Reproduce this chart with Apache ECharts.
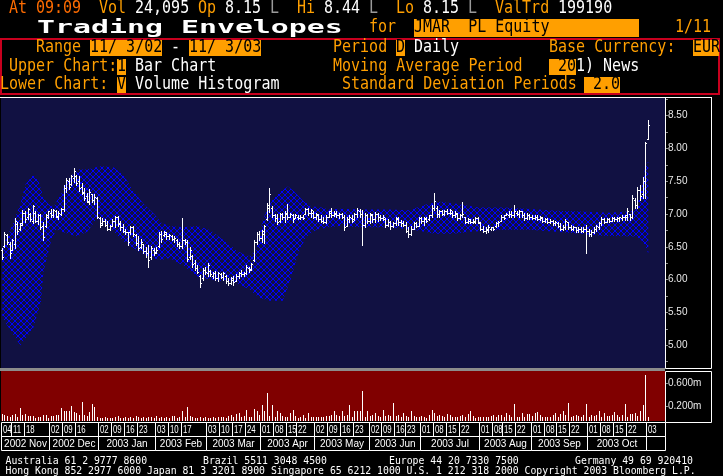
<!DOCTYPE html>
<html><head><meta charset="utf-8">
<script src="https://cdn.jsdelivr.net/npm/echarts@6/dist/echarts.min.js"></script>
<style>html,body{margin:0;padding:0;background:#000;}#c{width:723px;height:476px;}</style>
</head><body><div id="c"></div>
<script>
// ---------- DATA ----------
const holidays = ['2002-11-11','2002-12-24','2002-12-25','2002-12-26','2003-01-01','2003-04-21','2003-05-01','2003-06-19','2003-08-15','2003-11-11'];
const firstDay = '2002-11-04';
const axisDays = 258; // trading-day slots on the time axis (last ones are empty)

const weekTicks = ['2002-11-04','2002-11-11','2002-11-18','2002-12-02','2002-12-09','2002-12-16',
 '2003-01-02','2003-01-09','2003-01-16','2003-01-23','2003-02-03','2003-02-10','2003-02-17',
 '2003-03-03','2003-03-10','2003-03-17','2003-03-24','2003-04-01','2003-04-08','2003-04-15','2003-04-22',
 '2003-05-02','2003-05-09','2003-05-16','2003-05-23','2003-06-02','2003-06-09','2003-06-16','2003-06-23',
 '2003-07-01','2003-07-08','2003-07-15','2003-07-22','2003-08-01','2003-08-08','2003-08-15','2003-08-22',
 '2003-09-01','2003-09-08','2003-09-15','2003-09-22','2003-10-01','2003-10-08','2003-10-15','2003-10-22','2003-11-03'];
const monthTicks = ['2002-11-04','2002-12-02','2003-01-02','2003-02-03','2003-03-03','2003-04-01','2003-05-02',
 '2003-06-02','2003-07-01','2003-08-01','2003-09-01','2003-10-01','2003-11-03'];
const monthLabels = ['2002 Nov','2002 Dec','2003 Jan','2003 Feb','2003 Mar','2003 Apr','2003 May',
 '2003 Jun','2003 Jul','2003 Aug','2003 Sep','2003 Oct','2003 Nov'];

// [open, high, low, close] per trading day
const priceBars = [
[6.45,6.48,6.32,6.35],[6.52,6.73,6.50,6.70],[6.68,6.70,6.55,6.58],[6.55,6.58,6.33,6.40],[6.46,6.62,6.45,6.60],
[6.55,6.94,6.49,6.90],[6.85,6.88,6.70,6.74],[6.78,6.86,6.76,6.84],[6.86,7.06,6.84,7.02],[7.02,7.05,6.88,6.92],
[6.95,7.10,6.93,7.08],[7.00,7.02,6.90,6.93],[6.90,7.14,6.87,7.12],[7.02,7.04,6.88,6.90],[6.90,7.00,6.85,6.98],
[6.98,7.00,6.78,6.80],[6.82,6.88,6.61,6.65],[6.82,7.00,6.80,6.98],[6.96,7.05,6.94,7.04],[7.02,7.08,6.96,6.98],
[6.98,7.08,6.96,7.06],[7.04,7.06,6.95,6.97],[6.96,7.04,6.93,7.02],[7.00,7.10,6.98,7.08],[7.08,7.44,7.04,7.40],
[7.40,7.55,7.34,7.52],[7.50,7.55,7.38,7.42],[7.46,7.60,7.45,7.58],[7.55,7.70,7.49,7.66],[7.58,7.60,7.44,7.48],
[7.50,7.58,7.35,7.40],[7.42,7.48,7.30,7.32],[7.34,7.40,7.22,7.25],[7.28,7.32,7.18,7.20],[7.18,7.38,7.15,7.34],
[7.30,7.30,7.18,7.22],[7.22,7.30,7.15,7.26],[7.24,7.26,6.94,6.96],[6.94,6.96,6.80,6.84],[6.86,6.94,6.84,6.90],
[6.90,6.92,6.82,6.84],[6.84,6.90,6.76,6.78],[6.78,6.84,6.76,6.82],[6.82,6.92,6.82,6.90],[6.90,6.97,6.80,6.95],
[6.95,6.97,6.82,6.85],[6.86,6.90,6.76,6.80],[6.80,6.85,6.72,6.75],[6.75,6.78,6.70,6.72],[6.72,6.73,6.53,6.58],
[6.72,6.82,6.70,6.80],[6.80,6.82,6.66,6.70],[6.68,6.70,6.53,6.56],[6.56,6.66,6.45,6.48],[6.50,6.62,6.48,6.58],
[6.55,6.55,6.40,6.44],[6.44,6.50,6.35,6.40],[6.40,6.53,6.19,6.30],[6.34,6.52,6.32,6.48],[6.46,6.48,6.38,6.40],
[6.42,6.50,6.40,6.46],[6.52,6.73,6.50,6.70],[6.70,6.74,6.58,6.62],[6.68,6.74,6.66,6.72],[6.70,6.73,6.62,6.66],
[6.66,6.70,6.62,6.68],[6.66,6.68,6.60,6.62],[6.62,6.66,6.58,6.64],[6.60,6.62,6.52,6.55],[6.55,6.58,6.49,6.52],
[6.52,6.94,6.49,6.60],[6.60,6.62,6.55,6.57],[6.58,6.61,6.28,6.32],[6.35,6.50,6.32,6.45],[6.36,6.38,6.20,6.24],
[6.26,6.30,6.15,6.18],[6.18,6.22,6.10,6.12],[6.05,6.07,5.89,5.95],[6.02,6.18,6.00,6.15],[6.15,6.20,6.08,6.12],
[6.10,6.25,6.05,6.22],[6.14,6.15,6.05,6.08],[6.06,6.12,6.02,6.10],[6.10,6.14,6.00,6.03],[6.02,6.12,5.98,6.10],
[6.08,6.10,6.02,6.04],[6.04,6.12,6.00,6.10],[6.05,6.07,5.95,5.98],[5.98,6.02,5.92,5.95],[5.95,6.04,5.93,6.02],
[6.00,6.06,5.92,5.96],[5.98,6.08,5.98,6.06],[6.05,6.12,6.02,6.10],[6.10,6.15,6.05,6.08],[6.08,6.12,6.05,6.10],
[6.10,6.22,6.08,6.20],[6.18,6.20,6.12,6.15],[6.16,6.25,6.15,6.24],[6.30,6.60,6.28,6.58],[6.58,6.72,6.55,6.70],
[6.70,6.74,6.60,6.64],[6.64,6.76,6.58,6.74],[6.70,6.84,6.56,6.82],[6.92,7.17,6.91,7.14],[7.10,7.40,7.03,7.30],
[7.10,7.12,6.95,6.98],[6.98,7.00,6.90,6.94],[6.94,7.00,6.85,6.88],[6.90,7.02,6.88,7.00],[7.00,7.02,6.92,6.96],
[6.96,7.05,6.88,7.02],[7.00,7.15,6.92,6.96],[6.96,7.02,6.95,7.00],[6.98,7.00,6.88,6.92],[6.94,7.00,6.94,6.98],
[6.96,6.98,6.92,6.94],[6.94,6.98,6.92,6.96],[6.95,6.98,6.93,6.94],[7.00,7.10,7.00,7.08],[7.08,7.10,6.98,7.02],
[7.02,7.08,6.96,7.06],[7.02,7.04,6.94,6.96],[6.96,7.02,6.92,7.00],[6.98,7.00,6.90,6.92],[6.92,6.98,6.88,6.90],
[6.90,6.95,6.86,6.88],[6.88,6.98,6.87,6.96],[6.96,7.05,6.95,7.04],[7.02,7.10,6.96,6.98],[6.98,7.04,6.97,7.02],
[7.00,7.04,6.95,6.98],[6.98,7.02,6.94,7.00],[7.00,7.02,6.94,6.96],[6.96,6.99,6.76,6.80],[6.82,6.96,6.82,6.92],
[6.92,6.98,6.88,6.96],[6.94,6.98,6.88,6.90],[6.92,7.02,6.91,7.00],[7.00,7.10,6.96,7.06],[7.05,7.08,6.96,7.00],
[7.00,7.07,6.53,6.84],[6.84,7.02,6.81,6.98],[6.98,7.00,6.86,6.90],[6.90,7.02,6.86,7.00],[6.98,7.00,6.88,6.92],
[6.92,7.03,6.88,7.00],[7.00,7.02,6.90,6.96],[6.96,6.99,6.91,6.94],[6.94,6.99,6.91,6.96],[6.92,6.94,6.80,6.84],
[6.84,6.92,6.82,6.88],[6.88,6.90,6.78,6.82],[6.82,6.88,6.80,6.86],[6.86,6.96,6.84,6.94],[6.92,6.96,6.84,6.88],
[6.88,6.91,6.82,6.86],[6.86,6.90,6.82,6.84],[6.84,6.88,6.72,6.75],[6.75,6.80,6.65,6.70],[6.70,6.82,6.68,6.78],
[6.78,6.88,6.78,6.86],[6.86,6.88,6.80,6.82],[6.82,6.96,6.82,6.94],[6.94,6.96,6.86,6.90],[6.90,6.96,6.84,6.94],
[6.92,6.96,6.88,6.90],[6.92,6.99,6.91,6.98],[6.98,7.14,6.96,7.10],[7.10,7.32,7.06,7.20],[7.10,7.12,6.96,7.00],
[7.00,7.06,6.96,7.04],[7.04,7.06,6.98,7.00],[7.00,7.06,6.98,7.04],[7.04,7.08,7.00,7.02],[7.02,7.08,7.00,7.06],
[7.02,7.04,6.96,6.98],[6.98,7.04,6.96,7.02],[7.00,7.02,6.91,6.94],[6.94,7.00,6.92,6.98],[6.98,7.19,6.95,7.00],
[6.96,6.96,6.86,6.88],[6.88,6.94,6.86,6.92],[6.90,6.93,6.86,6.88],[6.88,6.92,6.86,6.90],[6.88,6.96,6.86,6.94],
[6.94,6.96,6.86,6.88],[6.86,6.88,6.76,6.78],[6.78,6.82,6.72,6.75],[6.74,6.80,6.71,6.78],[6.76,6.83,6.72,6.80],
[6.78,6.81,6.76,6.80],[6.80,6.81,6.76,6.78],[6.82,6.88,6.81,6.86],[6.86,6.90,6.82,6.88],[6.90,6.98,6.90,6.96],
[6.96,6.98,6.92,6.94],[6.98,7.02,6.98,7.00],[6.98,7.05,6.96,7.00],[7.00,7.04,6.96,6.98],[6.98,7.14,6.96,7.04],
[7.02,7.04,6.98,7.00],[7.00,7.07,6.96,7.04],[7.04,7.04,6.96,6.98],[6.98,7.02,6.91,6.94],[6.94,7.01,6.93,6.98],
[6.98,7.00,6.93,6.96],[6.96,6.98,6.93,6.94],[6.94,6.98,6.93,6.96],[6.96,6.98,6.91,6.93],[6.93,6.97,6.91,6.95],
[6.94,6.96,6.88,6.90],[6.90,6.94,6.88,6.92],[6.92,6.94,6.86,6.88],[6.88,6.92,6.86,6.90],[6.90,6.91,6.84,6.86],
[6.86,6.90,6.84,6.88],[6.86,6.88,6.80,6.82],[6.82,6.86,6.76,6.78],[6.78,6.84,6.76,6.80],[6.80,6.93,6.78,6.90],
[6.88,6.88,6.78,6.80],[6.80,6.84,6.76,6.78],[6.78,6.82,6.76,6.80],[6.80,6.81,6.73,6.76],[6.76,6.80,6.73,6.78],
[6.78,6.81,6.73,6.75],[6.75,6.80,6.73,6.78],[6.78,6.84,6.40,6.74],[6.74,6.78,6.66,6.70],[6.70,6.76,6.66,6.72],
[6.72,6.80,6.71,6.78],[6.78,6.84,6.74,6.82],[6.80,6.88,6.78,6.86],[6.86,6.96,6.84,6.92],[6.92,6.94,6.86,6.88],
[6.88,6.94,6.88,6.92],[6.92,6.94,6.88,6.90],[6.90,6.96,6.90,6.94],[6.94,6.96,6.90,6.92],[6.92,6.96,6.90,6.94],
[6.94,6.96,6.90,6.95],[6.94,6.98,6.91,6.96],[6.96,6.98,6.91,6.98],[6.96,7.10,6.91,7.04],[7.00,7.00,6.91,6.96],
[6.96,7.29,6.94,7.24],[7.22,7.25,7.10,7.14],[7.14,7.41,7.10,7.36],[7.36,7.45,7.22,7.28],[7.30,7.56,7.25,7.50],
[7.50,8.10,7.25,8.08],[8.15,8.44,8.15,8.36]
];

// daily volume, millions of shares
const volumes = [
0.068,0.045,0.040,0.011,0.056,0.068,0.011,0.171,0.056,0.068,0.028,0.028,0.028,0.005,0.022,0.011,0.045,0.056,0.005,0.028,
0.028,0.045,0.056,0.171,0.125,0.125,0.114,0.200,0.102,0.085,0.056,0.268,0.056,0.028,0.097,0.240,0.182,0.011,
0.005,0.005,0.011,0.005,0.003,0.005,0.011,0.028,0.005,0.005,0.011,0.005,0.011,0.005,0.028,0.011,0.005,0.011,0.005,0.011,
0.011,0.005,0.028,0.005,0.011,0.005,0.011,0.005,0.028,
0.028,0.005,0.011,0.125,0.011,0.182,0.028,0.011,0.005,0.005,0.011,0.005,0.011,0.005,0.005,0.011,0.005,0.011,0.011,0.011,
0.005,0.028,0.056,0.011,0.068,0.085,
0.011,0.028,0.142,0.011,0.011,0.160,0.125,0.056,0.228,0.125,0.428,0.028,0.228,0.011,0.125,0.085,0.028,0.011,0.011,0.085,
0.142,0.028,0.005,0.011,0.056,0.005,0.085,0.011,0.011,0.011,0.011,0.011,0.011,0.028,0.028,0.056,0.125,0.056,0.028,0.114,
0.028,0.056,0.228,0.011,0.125,0.125,0.114,0.468,0.011,0.114,0.028,0.056,0.085,0.028,0.011,0.142,0.028,0.056,0.028,0.257,
0.028,0.056,0.011,0.085,0.028,0.011,0.114,0.028,0.011,0.011,0.028,0.011,0.005,0.056,0.142,0.085,0.028,0.056,0.028,0.011,
0.068,0.056,0.011,0.011,0.011,0.028,0.056,0.011,0.068,0.114,0.028,0.005,0.011,
0.011,0.011,0.011,0.011,0.028,0.045,0.011,0.056,0.056,0.011,0.085,0.056,0.011,0.240,0.011,0.011,0.085,0.011,0.068,0.068,
0.028,0.085,0.102,0.056,0.011,0.011,0.011,0.011,0.056,0.085,0.011,0.068,0.114,0.056,0.257,0.011,0.028,0.056,0.028,0.011,
0.056,0.240,0.011,0.056,0.028,0.056,0.125,0.011,0.085,0.028,0.028,0.056,0.102,0.056,0.011,0.056,0.240,0.011,0.068,0.068,
0.085,0.028,0.114,0.217,0.732,0.024
];

// trading envelope (upper / lower), read at selected trading-day positions
const bandUpperIdx = [0,3,7,9,12,14,16,18,20,23,25,29,33,38,43,47,51,55,59,62,65,70,76,81,86,91,94,96,99,101,104,108,111,113,117,120,124,127,131,140,150,158,165,170,178,185,195,204,215,225,236,246,248,250,251];
const bandUpperVal = [6.48,6.75,7.15,7.45,7.60,7.52,7.25,7.15,7.12,7.32,7.50,7.68,7.68,7.73,7.72,7.60,7.35,7.15,7.00,6.86,6.82,6.80,6.82,6.75,6.60,6.45,6.38,6.36,6.48,6.88,7.19,7.34,7.42,7.36,7.20,7.12,7.10,7.07,7.08,7.07,7.07,7.06,7.15,7.19,7.15,7.10,7.10,7.08,7.05,7.04,7.02,7.05,7.30,7.75,7.80];
const bandLowerIdx = [0,7,12,15,16,19,21,25,29,33,37,41,45,48,53,58,62,65,70,76,81,86,91,96,100,104,109,112,115,118,122,127,131,140,150,160,168,175,182,195,205,215,225,233,246,248,250,251];
const bandLowerVal = [5.42,5.00,5.26,5.66,6.12,6.60,6.76,6.71,6.66,6.73,6.94,6.83,6.66,6.56,6.43,6.33,6.30,6.33,6.22,6.05,6.00,5.98,5.95,5.85,5.72,5.68,5.68,6.00,6.40,6.65,6.76,6.80,6.82,6.80,6.80,6.76,6.70,6.70,6.73,6.76,6.76,6.73,6.70,6.67,6.66,6.62,6.50,6.40];

const priceTickValues = [4.75,5.00,5.25,5.50,5.75,6.00,6.25,6.50,6.75,7.00,7.25,7.50,7.75,8.00,8.25,8.50,8.75];
const priceLabelValues = [5.00,5.50,6.00,6.50,7.00,7.50,8.00,8.50];
const volumeLabelValues = [0.2,0.6];

// ---------- BUILD ----------
const iso = d => d.toISOString().slice(0,10);
const dates = [];
{
  const p = firstDay.split('-').map(Number);
  let t = Date.UTC(p[0], p[1]-1, p[2]);
  while (dates.length < axisDays) {
    const d = new Date(t), wd = d.getUTCDay(), s = iso(d);
    if (wd !== 0 && wd !== 6 && holidays.indexOf(s) < 0) dates.push(s);
    t += 86400000;
  }
}
const N = dates.length;
// a tick on a non-trading day is drawn at the preceding trading day
const idxOf = s => { let r = 0; for (let i = 0; i < N; i++) { if (dates[i] <= s) r = i; else break; } return r; };

const dateBoxes = [];
weekTicks.forEach((s, k) => {
  dateBoxes.push({ s: idxOf(s), e: k + 1 < weekTicks.length ? idxOf(weekTicks[k + 1]) : N, row: 0, label: s.slice(8, 10) });
});
monthTicks.forEach((s, k) => {
  dateBoxes.push({ s: idxOf(s), e: k + 1 < monthTicks.length ? idxOf(monthTicks[k + 1]) : N, row: 1, label: monthLabels[k] });
});

// cross-hatch pattern
const hc = document.createElement('canvas');
hc.width = 6; hc.height = 6;
{
  const g = hc.getContext('2d');
  g.fillStyle = '#0000ff';
  for (let i = 0; i < 6; i++) { g.fillRect(i, i, 1, 1); g.fillRect(5 - i, i, 1, 1); }
}
const hatch = { image: hc, repeat: 'repeat' };

const VMIN = -0.052, VMAX = 0.806;

const ORANGE = '#ff9f00', ORRED = '#ff6c00', WHITE = '#ffffff', GREY = '#9a9a9a';
const MONO = '15px "DejaVu Sans Mono"';
const CW = 9;
function T(x, y, s, color, font, extra) {
  return Object.assign({ type: 'text', x: x, y: y, silent: true, z: 100, scaleY: font ? 1 : 1.12,
    style: { text: s, fill: color, font: font || MONO, textAlign: 'left', align: 'left', textVerticalAlign: 'middle', verticalAlign: 'middle' } }, extra || {});
}
function B(x, y, w, h, color) {
  return { type: 'rect', silent: true, z: 99, shape: { x: x, y: y, width: w, height: h }, style: { fill: color } };
}
function L(x1, y1, x2, y2, color, w) {
  return { type: 'line', silent: true, z: 101, shape: { x1: x1, y1: y1, x2: x2, y2: y2 }, style: { stroke: color, lineWidth: w || 1 } };
}
const FOOT = '9.8px "DejaVu Sans Mono"';

const graphics = [
  // row 0
  T(1*CW, 9, 'At', ORRED), T(4*CW, 9, '09:09', ORRED),
  T(11*CW, 9, 'Vol', ORANGE), T(15*CW, 9, '24,095', WHITE),
  T(22*CW, 9, 'Op', ORANGE), T(25*CW, 9, '8.15', WHITE), T(30*CW, 9, 'L', GREY),
  T(33*CW, 9, 'Hi', ORANGE), T(36*CW, 9, '8.44', WHITE), T(41*CW, 9, 'L', GREY),
  T(44*CW, 9, 'Lo', ORANGE), T(47*CW, 9, '8.15', WHITE), T(52*CW, 9, 'L', GREY),
  T(55*CW, 9, 'ValTrd', ORANGE), T(62*CW, 9, '199190', WHITE),
  // title row
  T(37, 28, 'Trading Envelopes', WHITE, 'bold 18px "DejaVu Sans Mono"', { scaleX: 1.66 }),
  T(41*CW, 28, 'for', ORANGE),
  B(46*CW, 19, 25*CW, 18, ORANGE), T(46*CW, 28, 'JMAR  PL Equity', '#000'),
  T(75*CW, 28, '1/11', ORANGE),
  // red frame
  { type: 'rect', silent: true, z: 98, shape: { x: 1, y: 39, width: 718, height: 55 }, style: { fill: null, stroke: '#c8001e', lineWidth: 2 } },
  // row 1
  T(4*CW, 48, 'Range', ORANGE),
  B(10*CW, 40, 8*CW, 16, ORANGE), T(10*CW, 48, '11/ 3/02', '#000'),
  T(19*CW, 48, '-', WHITE),
  B(21*CW, 40, 8*CW, 16, ORANGE), T(21*CW, 48, '11/ 3/03', '#000'),
  T(37*CW, 48, 'Period', ORANGE),
  B(44*CW, 40, CW, 16, ORANGE), T(44*CW, 48, 'D', '#000'),
  T(46*CW, 48, 'Daily', WHITE),
  T(61*CW, 48, 'Base Currency:', ORANGE),
  B(77*CW, 40, 3*CW - 1, 16, ORANGE), T(77*CW, 48, 'EUR', '#000'),
  // row 2
  T(1*CW, 67, 'Upper Chart:', ORANGE),
  B(13*CW, 59, CW, 16, ORANGE), T(13*CW, 67, '1', '#000'),
  T(15*CW, 67, 'Bar Chart', WHITE),
  T(37*CW, 67, 'Moving Average Period', ORANGE),
  B(61*CW, 59, 3*CW, 16, ORANGE), T(62*CW, 67, '20', '#000'),
  T(64*CW, 67, '1) News', WHITE),
  // row 3
  T(0, 85, 'Lower Chart:', ORANGE),
  B(13*CW, 77, CW, 16, ORANGE), T(13*CW, 85, 'V', '#000'),
  T(15*CW, 85, 'Volume Histogram', WHITE),
  T(38*CW, 85, 'Standard Deviation Periods', ORANGE),
  B(584, 77, 36, 16, ORANGE), T(593, 85, '2.0', '#000'),
  // chart frame pieces
  L(0, 97.5, 712, 97.5, WHITE),
  { type: 'rect', silent: true, z: 101, shape: { x: 665.5, y: 97.5, width: 46, height: 271 }, style: { fill: null, stroke: WHITE, lineWidth: 1 } },
  B(0, 368, 665, 3, '#8c8c8c'),
  { type: 'rect', silent: true, z: 101, shape: { x: 665.5, y: 371.5, width: 46, height: 51 }, style: { fill: null, stroke: WHITE, lineWidth: 1 } },
  // footer
  T(5.5, 461, 'Australia 61 2 9777 8600', WHITE, FOOT),
  T(203, 461, 'Brazil 5511 3048 4500', WHITE, FOOT),
  T(389, 461, 'Europe 44 20 7330 7500', WHITE, FOOT),
  T(575, 461, 'Germany 49 69 920410', WHITE, FOOT),
  T(5.5, 471, 'Hong Kong 852 2977 6000 Japan 81 3 3201 8900 Singapore 65 6212 1000 U.S. 1 212 318 2000 Copyright 2003 Bloomberg L.P.', WHITE, FOOT)
];

function renderBand(params, api) {
  const pts = [];
  for (let k = 0; k < bandUpperIdx.length; k++) pts.push(api.coord([bandUpperIdx[k], bandUpperVal[k]]));
  for (let k = bandLowerIdx.length - 1; k >= 0; k--) pts.push(api.coord([bandLowerIdx[k], bandLowerVal[k]]));
  return { type: 'polygon', shape: { points: pts }, style: { fill: hatch } };
}
function renderBar(params, api) {
  const i = api.value(0);
  const pO = api.coord([i, api.value(1)]), pH = api.coord([i, api.value(2)]),
        pL = api.coord([i, api.value(3)]), pC = api.coord([i, api.value(4)]);
  const x = Math.floor(pH[0]);
  const yH = Math.round(pH[1]), yL = Math.round(pL[1]);
  return { type: 'group', children: [
    { type: 'rect', shape: { x: x, y: yH, width: 1, height: Math.max(1, yL - yH + 1) }, style: { fill: '#fff' } },
    { type: 'rect', shape: { x: x - 1, y: Math.round(pO[1]), width: 1, height: 1 }, style: { fill: '#fff' } },
    { type: 'rect', shape: { x: x + 1, y: Math.round(pC[1]), width: 1, height: 1 }, style: { fill: '#fff' } }
  ] };
}
function renderVol(params, api) {
  const i = api.value(0);
  const p = api.coord([i, api.value(1)]), b = api.coord([i, VMIN]);
  const x = Math.floor(p[0]), yT = Math.round(p[1]);
  return { type: 'rect', shape: { x: x, y: yT, width: 1, height: Math.round(b[1]) - yT }, style: { fill: '#fff' } };
}
const WEEK_SX = 0.78;
function renderDate(params, api) {
  const it = dateBoxes[params.dataIndex];
  const half = api.size([1, 0])[0] / 2;
  const xs = api.coord([it.s, 1])[0] - half;
  const xe = it.e >= N ? api.coord([N - 1, 1])[0] + half : api.coord([it.e, 1])[0] - half;
  const yT = api.coord([0, it.row === 0 ? 2 : 1])[1];
  const yB = api.coord([0, it.row === 0 ? 1 : 0])[1];
  const x0 = Math.floor(xs) + 0.5, x1 = Math.floor(xe) + 0.5;
  const y0 = Math.round(yT) + 0.5, y1 = Math.round(yB) + 0.5;
  const w = x1 - x0;
  const children = [{ type: 'rect', shape: { x: x0, y: y0, width: w, height: y1 - y0 }, style: { fill: null, stroke: '#fff', lineWidth: 1 } }];
  if (it.row === 0) {
    children.push({ type: 'text', x: x0 + 1.5, y: (y0 + y1) / 2 + 0.5, scaleX: WEEK_SX, scaleY: 1.1,
      style: { text: it.label, x: 0, y: 0, fill: '#fff', font: '10px "Liberation Sans"',
      align: 'left', verticalAlign: 'middle', width: Math.max(1, (w - 0.5) / WEEK_SX), overflow: 'truncate', ellipsis: '' } });
  } else if (w > 40) {
    children.push({ type: 'text', style: { text: it.label, x: x0 + w / 2, y: (y0 + y1) / 2 + 0.5, fill: '#fff', font: '10px "Liberation Sans"',
      align: 'center', verticalAlign: 'middle' } });
  }
  return { type: 'group', children: children };
}

const axisFont = { color: '#e8e8e8', fontFamily: 'Liberation Sans', fontSize: 10 };
const chart = echarts.init(document.getElementById('c'), null, { renderer: 'canvas' });
chart.setOption({
  backgroundColor: '#000',
  animation: false,
  grid: [
    { left: 1, top: 98, width: 664, height: 270, show: true, backgroundColor: '#111142', borderWidth: 0 },
    { left: 1, top: 371, width: 664, height: 50, show: true, backgroundColor: '#800000', borderWidth: 0 },
    { left: 1, top: 422, width: 664, height: 28, show: false }
  ],
  xAxis: [0, 1, 2].map(g => ({ type: 'category', gridIndex: g, data: dates, boundaryGap: true, show: false })),
  yAxis: [
    { type: 'value', gridIndex: 0, position: 'right', min: 4.654, max: 8.77,
      axisLine: { show: true, lineStyle: { color: '#8c8c8c' } },
      axisTick: { show: true, length: 3, customValues: priceTickValues, lineStyle: { color: '#8c8c8c' } },
      axisLabel: Object.assign({ customValues: priceLabelValues, margin: 3, formatter: v => v.toFixed(2) }, axisFont),
      splitLine: { show: false } },
    { type: 'value', gridIndex: 1, position: 'right', min: VMIN, max: VMAX,
      axisLine: { show: false },
      axisTick: { show: true, length: 3, customValues: volumeLabelValues, lineStyle: { color: '#8c8c8c' } },
      axisLabel: Object.assign({ customValues: volumeLabelValues, margin: 3, formatter: v => v.toFixed(3) + 'm' }, axisFont),
      splitLine: { show: false } },
    { type: 'value', gridIndex: 2, min: 0, max: 2, show: false }
  ],
  series: [
    { type: 'custom', name: 'envelope', xAxisIndex: 0, yAxisIndex: 0, renderItem: renderBand, data: [[0, 6]], z: 2, silent: true },
    { type: 'custom', name: 'price', xAxisIndex: 0, yAxisIndex: 0, renderItem: renderBar, z: 3, silent: true,
      encode: { x: 0, y: [1, 2, 3, 4] },
      data: priceBars.map((b, i) => [i, b[0], b[1], b[2], b[3]]) },
    { type: 'custom', name: 'volume', xAxisIndex: 1, yAxisIndex: 1, renderItem: renderVol, z: 3, silent: true,
      encode: { x: 0, y: 1 }, data: volumes.map((v, i) => [i, v]) },
    { type: 'custom', name: 'dates', xAxisIndex: 2, yAxisIndex: 2, renderItem: renderDate, z: 3, silent: true,
      data: dateBoxes.map(b => [b.s, 1]) }
  ],
  graphic: graphics
});
</script></body></html>
